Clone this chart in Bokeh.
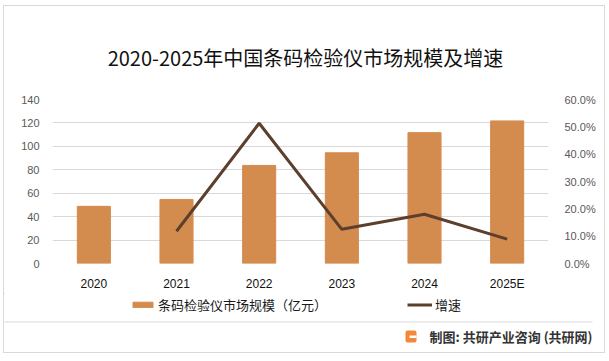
from bokeh.plotting import figure
from bokeh.layouts import column
from bokeh.models import (Range1d, LinearAxis, NumeralTickFormatter, Legend, LegendItem,
                          Label, BoxAnnotation, FixedTicker)
from bokeh.embed import file_html
from bokeh.resources import INLINE

categories = ["2020", "2021", "2022", "2023", "2024", "2025E"]
market_size = [48.8, 54.7, 83.7, 94.5, 111.7, 121.7]
growth_years = ["2021", "2022", "2023", "2024", "2025E"]
growth_rate = [0.118, 0.513, 0.125, 0.180, 0.089]
left_ticks = [0, 20, 40, 60, 80, 100, 120, 140]
right_ticks = [0.0, 0.1, 0.2, 0.3, 0.4, 0.5, 0.6]

TITLE = "2020-2025年中国条码检验仪市场规模及增速"
BAR_LABEL = "条码检验仪市场规模（亿元）"
LINE_LABEL = "增速"
SOURCE = "制图: 共研产业咨询 (共研网)"

CJK = "Noto Sans CJK SC"
BAR_COLOR = "#D48B4E"
LINE_COLOR = "#5C3F2C"
W = 600


def blank(height, y0, y1):
    f = figure(width=W, height=height, x_range=Range1d(4, 604), y_range=Range1d(y1, y0),
               output_backend="svg", toolbar_location=None, min_border=0,
               x_axis_type=None, y_axis_type=None, frame_align=False)
    f.outline_line_color = None
    f.xgrid.visible = False
    f.ygrid.visible = False
    f.background_fill_color = "white"
    f.border_fill_color = "white"
    return f


# ---- title strip ----
t = blank(86, 6, 92)
t.add_layout(Label(x=305, y=57, text=TITLE, text_align="center", text_baseline="middle",
                   text_font_size="20px", text_font=CJK, text_color="#111111"))

# ---- main chart ----
p = figure(x_range=categories, y_range=Range1d(0, 140), width=W, height=201,
           output_backend="svg", toolbar_location=None, frame_align=False,
           min_border_left=48, min_border_right=56, min_border_top=7, min_border_bottom=30)
p.outline_line_color = None
p.background_fill_color = "white"
p.border_fill_color = "white"
p.extra_y_ranges = {"g": Range1d(0, 0.6)}

p.vbar(x=categories, top=market_size, width=0.4, color=BAR_COLOR)
p.line(x=growth_years, y=growth_rate, y_range_name="g", line_color=LINE_COLOR, line_width=3)

p.xgrid.grid_line_color = None
p.ygrid.grid_line_color = "#d9d9d9"
p.ygrid.ticker = FixedTicker(ticks=left_ticks)

ax = p.xaxis[0]
ax.axis_line_color = None
ax.major_tick_line_color = None
ax.minor_tick_line_color = None
ax.major_label_text_font_size = "12px"
ax.major_label_text_color = "#111111"
ax.major_label_text_font = "Liberation Sans"
ax.major_label_standoff = 7

ay = p.yaxis[0]
ay.ticker = FixedTicker(ticks=left_ticks)
ay.axis_line_color = None
ay.major_tick_line_color = None
ay.minor_tick_line_color = None
ay.major_label_text_font_size = "11px"
ay.major_label_text_color = "#595959"
ay.major_label_text_font = "Liberation Sans"
ay.major_label_standoff = 7

ar = LinearAxis(y_range_name="g", ticker=FixedTicker(ticks=right_ticks),
                formatter=NumeralTickFormatter(format="0.0%"))
ar.axis_line_color = None
ar.major_tick_line_color = None
ar.minor_tick_line_color = None
ar.major_label_text_font_size = "11px"
ar.major_label_text_color = "#595959"
ar.major_label_text_font = "Liberation Sans"
ar.major_label_standoff = 10
p.add_layout(ar, "right")

# ---- legend + footer strip ----
b = blank(59, 293, 352)
# legend-only swatches, placed outside the visible range
lb = b.vbar(x=[-50], top=[-50], bottom=[-60], width=1, color=BAR_COLOR)
ll = b.line(x=[-60, -50], y=[-50, -50], line_color=LINE_COLOR, line_width=3)
legend = Legend(items=[LegendItem(label=BAR_LABEL, renderers=[lb]),
                       LegendItem(label=LINE_LABEL, renderers=[ll])],
                orientation="horizontal", location=(126, 38), spacing=80,
                glyph_width=25, glyph_height=7, label_standoff=3, label_height=20,
                label_text_font=CJK, label_text_font_size="13px", label_text_color="#1a1a1a",
                border_line_color=None, background_fill_alpha=0, padding=0, margin=0)
b.add_layout(legend, "center")

b.add_layout(BoxAnnotation(left=4, right=592, top=321, bottom=322,
                           fill_color="#d9d9d9", fill_alpha=1, line_color=None))
b.add_layout(BoxAnnotation(left=405, right=416, top=330, bottom=342,
                           fill_color="#F3873A", fill_alpha=1, line_color=None,
                           border_radius=2))
b.add_layout(BoxAnnotation(left=409, right=416, top=335, bottom=337.5,
                           fill_color="white", fill_alpha=1, line_color=None))
b.add_layout(Label(x=592, y=336, text=SOURCE, text_align="right", text_baseline="middle",
                   text_font_size="13px", text_font=CJK, text_font_style="bold",
                   text_color="#333333"))

layout = column(t, p, b, spacing=0,
                styles={"border": "1px solid #d9d9d9", "margin-left": "3px",
                        "margin-top": "5px", "background-color": "white"})

open("out.html", "w").write(file_html(layout, INLINE))
